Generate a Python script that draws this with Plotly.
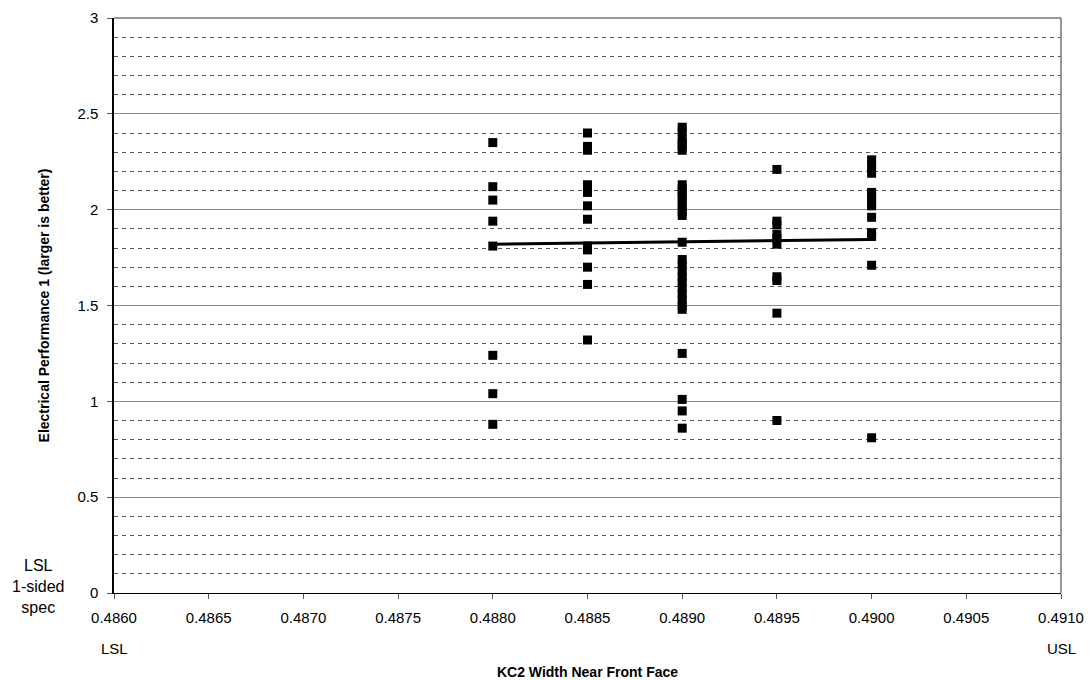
import plotly.graph_objects as go

# ---- data ----
x_levels = [0.4880, 0.4885, 0.4890, 0.4895, 0.4900]
y_0_4880 = [2.35, 2.12, 2.05, 1.94, 1.81, 1.24, 1.04, 0.88]
y_0_4885 = [2.40, 2.33, 2.31, 2.13, 2.11, 2.09, 2.02, 1.95, 1.81, 1.79, 1.70, 1.61, 1.32]
y_0_4890 = [2.43, 2.41, 2.37, 2.35, 2.33, 2.31, 2.13, 2.11, 2.09, 2.07, 2.04, 2.02,
            1.99, 1.97, 1.83, 1.74, 1.71, 1.68, 1.65, 1.62, 1.59, 1.56, 1.53, 1.50,
            1.48, 1.25, 1.01, 0.95, 0.86]
y_0_4895 = [2.21, 1.94, 1.92, 1.87, 1.85, 1.82, 1.65, 1.63, 1.46, 0.90]
y_0_4900 = [2.26, 2.23, 2.19, 2.09, 2.07, 2.04, 2.02, 1.96, 1.88, 1.86, 1.71, 0.81]
y_series = [y_0_4880, y_0_4885, y_0_4890, y_0_4895, y_0_4900]

trend_x = [0.4880, 0.4900]
trend_y = [1.82, 1.845]

x_ticks = [0.4860, 0.4865, 0.4870, 0.4875, 0.4880, 0.4885, 0.4890,
           0.4895, 0.4900, 0.4905, 0.4910]
y_ticks = [0, 0.5, 1, 1.5, 2, 2.5, 3]

xs, ys = [], []
for xv, yl in zip(x_levels, y_series):
    xs += [xv] * len(yl)
    ys += yl

FONT = "Liberation Sans, Arial, sans-serif"

fig = go.Figure()
fig.add_trace(go.Scatter(
    x=xs, y=ys, mode="markers",
    marker=dict(symbol="square", size=9, color="black"),
    showlegend=False, hoverinfo="x+y"))
fig.add_trace(go.Scatter(
    x=trend_x, y=trend_y, mode="lines",
    line=dict(color="black", width=3), showlegend=False))

fig.update_layout(
    width=1091, height=680,
    margin=dict(l=114, r=30, t=18, b=87),
    paper_bgcolor="white", plot_bgcolor="white",
    font=dict(family=FONT, size=15, color="black"),
    xaxis=dict(
        range=[0.4860, 0.4910], tickvals=x_ticks,
        ticktext=[f"{v:.4f}" for v in x_ticks],
        showgrid=False, zeroline=False, automargin=False,
        showline=True, linecolor="black", linewidth=1,
        ticks="outside", ticklen=5, tickcolor="#555555",
        ticklabelstandoff=6,
        tickfont=dict(size=15, family=FONT),
        title=dict(text="<b>KC2 Width Near Front Face</b>",
                   font=dict(size=14, family=FONT), standoff=44),
    ),
    yaxis=dict(
        range=[0, 3], tickvals=y_ticks,
        ticktext=["0", "0.5", "1", "1.5", "2", "2.5", "3"],
        showgrid=True, gridcolor="#8a8a8a", gridwidth=1,
        zeroline=False, automargin=False,
        showline=True, linecolor="black", linewidth=1.5,
        ticks="outside", ticklen=5, tickcolor="#555555",
        ticklabelstandoff=6,
        tickfont=dict(size=15, family=FONT),
        minor=dict(dtick=0.1, showgrid=True, gridcolor="#555555",
                   griddash="4px,4px", gridwidth=1, ticks=""),
        title=dict(text="<b>Electrical Performance 1 (larger is better)</b>",
                   font=dict(size=14, family=FONT), standoff=24),
    ),
)

# plot area border top/right
fig.add_shape(type="line", xref="paper", yref="paper", x0=0, x1=1, y0=1, y1=1,
              line=dict(color="#777777", width=1.5))
fig.add_shape(type="line", xref="paper", yref="paper", x0=1, x1=1, y0=0, y1=1,
              line=dict(color="#777777", width=1.5))

fig.add_annotation(text="LSL<br>1-sided<br>spec", xref="paper", yref="paper",
                   x=-0.08, y=0.012, xanchor="center", yanchor="middle",
                   showarrow=False, font=dict(size=16, family=FONT), align="center")
fig.add_annotation(text="LSL", xref="x", yref="paper", x=0.4860, y=-0.078,
                   yanchor="top", xanchor="center", showarrow=False,
                   font=dict(size=15, family=FONT))
fig.add_annotation(text="USL", xref="x", yref="paper", x=0.4910, y=-0.078,
                   yanchor="top", xanchor="center", showarrow=False,
                   font=dict(size=15, family=FONT))

fig.write_html("out.html")
